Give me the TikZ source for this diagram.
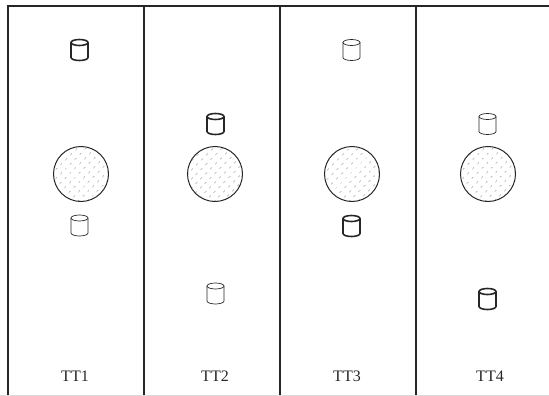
\documentclass[tikz,border=0pt]{standalone}
\usepackage{fontspec}
\setmainfont{Liberation Serif}
\usetikzlibrary{patterns.meta}
\tikzset{
  pics/store/.style={code={
    \coordinate (-c) at (0,0);
    \filldraw[fill=white] (-8.5,-7.5) -- (-8.5,7.5) arc[start angle=180,end angle=0,x radius=8.5,y radius=3] -- (8.5,-7.5);
    \filldraw[fill=white] (0,-7.5) ellipse[x radius=8.5,y radius=3];
  }}
}
\begin{document}
\begin{tikzpicture}[x=1pt,y=-1pt,
  lane/.style={draw=black!85,line width=1.3pt},
  tag/.style={font=\fontsize{16}{18}\selectfont,text=black!85,inner sep=0pt},
  zone/.style={circle,draw=black!85,line width=1pt,minimum size=55pt,inner sep=0pt,pattern={Dots[distance=6.4pt,radius=0.6pt,angle=45]},pattern color=black!80},
  busy/.style={draw=black!85,line width=1.6pt},
  idle/.style={draw=black!85,line width=0.7pt}]
\useasboundingbox (0,0) rectangle (549,396);
% frame and lanes
\draw[lane] (8,396) |- (549,6);
\foreach \x in {144,280,416} \draw[lane] (\x,6) -- (\x,396);
\draw[black!15,line width=0.6pt] (0,395.3) -- (549,395.3);
% zones
\node[zone] (z1) at (81,174) {};
\node[zone] (z2) at (215,174) {};
\node[zone] (z3) at (352,174) {};
\node[zone] (z4) at (488,174) {};
% stores
\pic[busy] (b1) at (79.5,50) {store};
\pic[idle] (i1) at (79.5,225.5) {store};
\pic[busy] (b2) at (215.5,124) {store};
\pic[idle] (i2) at (215.5,293.5) {store};
\pic[idle] (i3) at (351.5,50) {store};
\pic[busy] (b3) at (351.5,226) {store};
\pic[idle] (i4) at (487.5,124) {store};
\pic[busy] (b4) at (487.5,299) {store};
% labels
\node[tag] (t1) at (75,376) {TT1};
\node[tag] (t2) at (215,376) {TT2};
\node[tag] (t3) at (347,376) {TT3};
\node[tag] (t4) at (490,376) {TT4};
\end{tikzpicture}
\end{document}
